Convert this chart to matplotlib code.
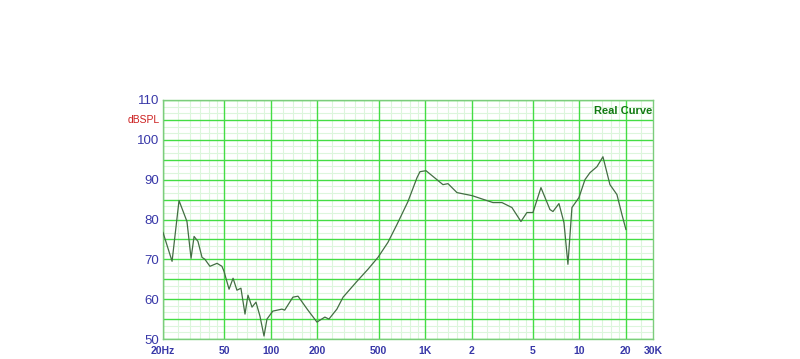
import numpy as np
import matplotlib
matplotlib.use('Agg')
import matplotlib.pyplot as plt

# frequency response (Hz, dB SPL)
freq = [20, 22.9, 25.4, 28.6, 30.4, 31.8, 33.7, 35.8, 37.4, 40.3, 44.8, 48.2, 49.7,
        53.6, 56.9, 60.3, 64.0, 68.0, 71.1, 75.5, 80.1, 85.0, 90.3, 94.4, 103, 118,
        123, 139, 150, 172, 199, 224, 238, 268, 294, 362, 426, 495, 574, 657, 774,
        886, 926, 1013, 1193, 1305, 1407, 1609, 2012, 2200, 2752, 3148, 3654, 4180,
        4571, 5000, 5635, 6444, 6740, 7371, 7941, 8428, 8946, 9934, 10866, 11706,
        12994, 14212, 15778, 17514, 18868, 20028]
spl = [76.75, 69.5, 84.75, 79.5, 70.25, 75.75, 74.5, 70.5, 70, 68.25, 69, 68.25, 67,
       62.5, 65.25, 62.25, 62.75, 56.25, 61, 58, 59.25, 55.75, 50.75, 55, 57, 57.5,
       57.25, 60.5, 60.75, 57.5, 54.25, 55.5, 55, 57.5, 60.5, 64.5, 67.5, 70.5, 74.25,
       78.75, 84.5, 90.5, 92, 92.25, 90, 88.75, 89, 86.75, 86, 85.5, 84.25, 84.25, 83,
       79.5, 81.75, 81.75, 88, 82.5, 82, 84, 79.25, 68.75, 83, 85.5, 90, 91.75,
       93.25, 95.75, 88.75, 86.25, 81.25, 77.5]

x_ticks = [20, 50, 100, 200, 500, 1000, 2000, 5000, 10000, 20000, 30000]
x_labels = ['20Hz', '50', '100', '200', '500', '1K', '2', '5', '10', '20', '30K']
y_ticks = [50, 60, 70, 80, 90, 100, 110]

# minor grid: same sub-steps in every decade
minor_x = []
for dec in [10, 100, 1000, 10000]:
    for m in [1.2, 1.4, 1.6, 1.8, 2.5, 3, 3.5, 4, 4.5, 6, 7, 8, 9]:
        v = m * dec
        if 20 < v < 30000:
            minor_x.append(v)
major_x = [20, 50, 100, 200, 500, 1000, 2000, 5000, 10000, 20000]
major_y = np.arange(50, 111, 5)
minor_y = [v for v in np.arange(50, 110, 5 / 3.0) if abs(v - round(v / 5) * 5) > 0.1]

plt.rcParams['font.family'] = ['Liberation Sans', 'DejaVu Sans']

fig = plt.figure(figsize=(8, 3.59), dpi=100)
ax = fig.add_axes([163 / 800, 20 / 359, 490 / 800, 239 / 359])
ax.set_xscale('log')
ax.set_xlim(20, 30000)
ax.set_ylim(50, 110)

for v in minor_x:
    ax.axvline(v, color='#dcf6dc', lw=0.8, zorder=1)
for v in minor_y:
    ax.axhline(v, color='#dcf6dc', lw=0.8, zorder=1)
for v in major_x:
    ax.axvline(v, color='#44dd44', lw=1.0, zorder=2)
for v in major_y:
    ax.axhline(v, color='#44dd44', lw=1.0, zorder=2)

ax.plot(freq, spl, color='#436e43', lw=0.9, zorder=3)

ax.minorticks_off()
ax.set_xticks(x_ticks)
ax.set_xticklabels(x_labels, fontsize=7.5, fontweight='bold', color='#3838a8')
ax.set_yticks(y_ticks)
ax.set_yticklabels([str(v) for v in y_ticks], fontsize=9.5, color='#3838a8')
ax.tick_params(axis='y', length=0, pad=3)
ax.tick_params(axis='x', length=0, pad=5)

for s in ax.spines.values():
    s.set_color('#7ccc7c')
    s.set_linewidth(1.0)

ax.text(-0.006, 105, 'dBSPL', transform=ax.get_yaxis_transform(), ha='right',
        va='center', fontsize=7.5, color='#cc2020')
ax.text(0.998, 107.2, 'Real Curve', transform=ax.get_yaxis_transform(), ha='right',
        va='center', fontsize=8, fontweight='bold', color='#127a12')

fig.savefig('out.png', dpi=100)
